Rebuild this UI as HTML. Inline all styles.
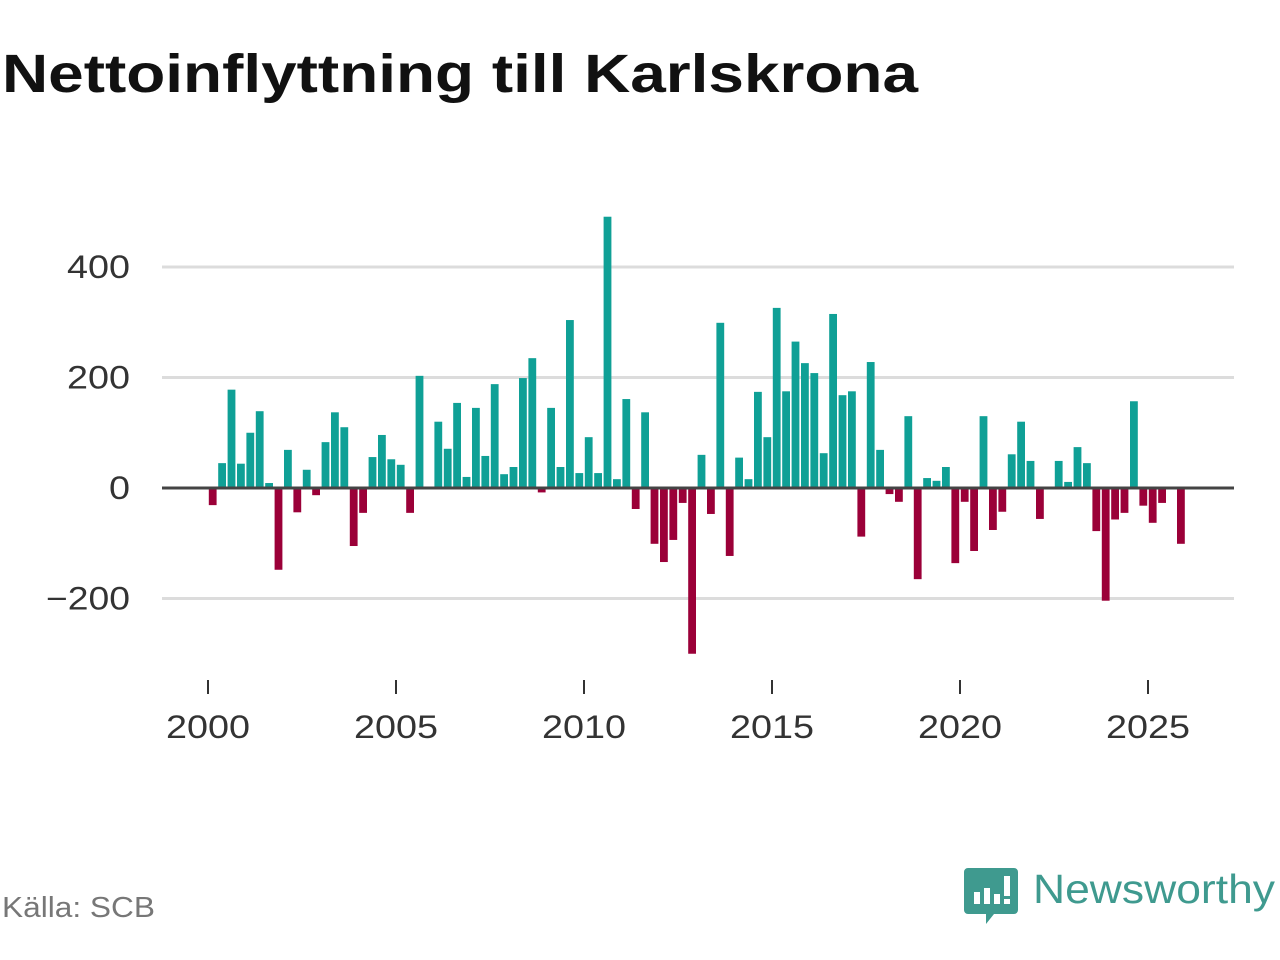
<!DOCTYPE html>
<html><head><meta charset="utf-8"><style>
html,body{margin:0;padding:0;background:#fff;width:1280px;height:960px;overflow:hidden}
svg{display:block}
text{font-family:"Liberation Sans",sans-serif}
</style></head><body>
<svg id="chart" width="1280" height="960">
<text x="2" y="92" font-size="54" font-weight="bold" fill="#111" textLength="916" lengthAdjust="spacingAndGlyphs">Nettoinflyttning till Karlskrona</text>
<g id="grid"></g><g id="bars"></g><g id="axes"></g>
<text x="2" y="917" font-size="29" fill="#777" textLength="153" lengthAdjust="spacingAndGlyphs">Källa: SCB</text>
<g>
<path d="M968 868 h46 a4 4 0 0 1 4 4 v38 a4 4 0 0 1 -4 4 h-20 l-8 10 v-10 h-18 a4 4 0 0 1 -4 -4 v-38 a4 4 0 0 1 4 -4z" fill="#3f9a8f"/>
<rect x="974" y="892" width="6" height="12" fill="#fff"/><rect x="984" y="888" width="6" height="16" fill="#fff"/><rect x="994" y="894" width="6" height="10" fill="#fff"/><rect x="1004" y="876" width="6" height="20" fill="#fff"/><rect x="1004" y="899" width="6" height="5" fill="#fff"/>
<text x="1033" y="903" font-size="41" fill="#3f9a8f" textLength="242" lengthAdjust="spacingAndGlyphs">Newsworthy</text>
</g>
</svg>
<script>
const startYear = 2000;
const values = [-31,45,178,44,100,139,9,-148,69,-44,33,-13,83,137,110,-105,-45,56,96,52,42,-45,203,0,120,71,154,20,145,58,188,25,38,199,235,-8,145,38,304,27,92,27,491,16,161,-38,137,-101,-134,-94,-27,-300,60,-47,299,-123,55,16,174,92,326,175,265,226,208,63,315,168,175,-88,228,69,-11,-25,130,-165,18,13,38,-136,-25,-114,130,-76,-43,61,120,49,-56,0,49,11,74,45,-78,-204,-57,-45,157,-32,-63,-27,0,-101];
const yTicks = [-200,0,200,400];
const xTicks = [2000,2005,2010,2015,2020,2025];
const NS='http://www.w3.org/2000/svg';
const x = t => 208 + (t-2000)*37.6;
const y = v => 488 - v*0.5525;
function mk(tag,attrs,parent){const e=document.createElementNS(NS,tag);for(const k in attrs)e.setAttribute(k,attrs[k]);parent.appendChild(e);return e;}
const grid=document.getElementById('grid'),bars=document.getElementById('bars'),axes=document.getElementById('axes');
yTicks.forEach(v=>{
  if(v!==0){const l=mk('line',{x1:162,x2:1234,y1:y(v),y2:y(v),stroke:'#dcdcdc','stroke-width':3},grid);
  
  }
  const s=v<0?'\u2212'+Math.abs(v):String(v);
  const t=mk('text',{x:130,y:y(v)+11,'text-anchor':'end','font-size':32,fill:'#333',textLength:s.length*21,lengthAdjust:'spacingAndGlyphs'},axes);
  t.textContent=s;
  
  
});
values.forEach((v,i)=>{
  const c=x(startYear+(i+0.5)/4);
  const r=mk('rect',{x:c-3.9,width:7.8,y:Math.min(y(v),y(0)),height:Math.abs(y(v)-y(0)),fill:v>=0?'#0fa096':'#9b0038'},bars);
  
  
});
const z=mk('line',{x1:162,x2:1234,y1:y(0),y2:y(0),stroke:'#444','stroke-width':3},axes);


xTicks.forEach(t=>{
  const l=mk('line',{x1:x(t),x2:x(t),y1:680,y2:694,stroke:'#333','stroke-width':2},axes);
  
  
  const tx=mk('text',{x:x(t),y:738,'text-anchor':'middle','font-size':32,fill:'#333',textLength:84,lengthAdjust:'spacingAndGlyphs'},axes);
  tx.textContent=t;
  
  
});
</script>
</body></html>
